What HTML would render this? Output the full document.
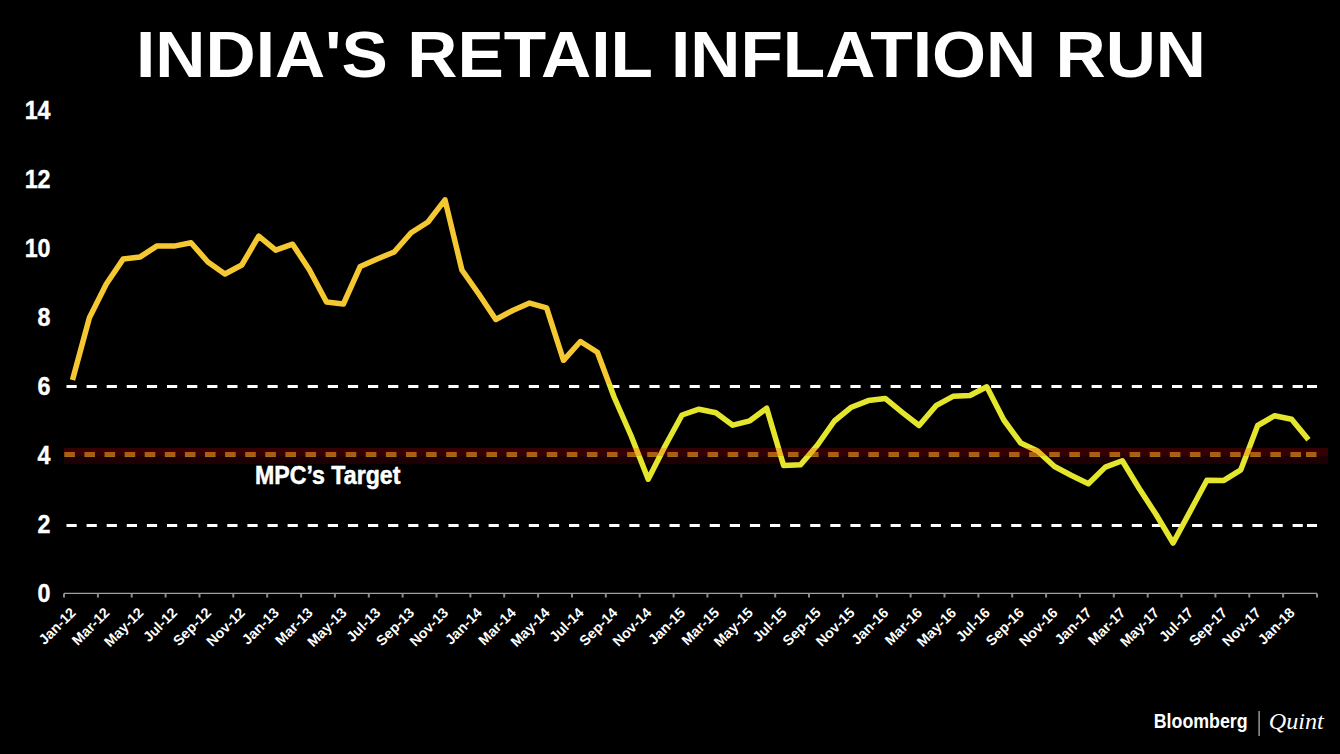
<!DOCTYPE html>
<html><head><meta charset="utf-8">
<style>
html,body{margin:0;padding:0;background:#000;width:1340px;height:754px;overflow:hidden}
svg{display:block}
text{font-family:"Liberation Sans",sans-serif}
</style></head>
<body>
<svg width="1340" height="754" viewBox="0 0 1340 754">
<defs>
<linearGradient id="lg" gradientUnits="userSpaceOnUse" x1="0" y1="383.5" x2="0" y2="384.5">
<stop offset="0" stop-color="#f5c832"/><stop offset="1" stop-color="#e4e62d"/>
</linearGradient>
</defs>
<rect width="1340" height="754" fill="#000"/>
<text x="136" y="77.2" font-size="65" font-weight="bold" fill="#fff" textLength="1070" lengthAdjust="spacingAndGlyphs">INDIA'S RETAIL INFLATION RUN</text>
<g fill="#fff" stroke="#fff" stroke-width="0.4" font-size="25" font-weight="bold" text-anchor="end" transform="translate(51,0) scale(0.93,1) translate(-51,0)">
<text x="50.5" y="602.2">0</text>
<text x="50.5" y="533.2">2</text>
<text x="50.5" y="464.2">4</text>
<text x="50.5" y="395.2">6</text>
<text x="50.5" y="326.2">8</text>
<text x="50.5" y="257.2">10</text>
<text x="50.5" y="188.2">12</text>
<text x="50.5" y="119.2">14</text>
</g>
<path d="M64,386.5H1305M64,525.5H1305" stroke="#fff" stroke-width="3.1" stroke-dasharray="10.2 9.9" stroke-dashoffset="-2.5"/>
<path d="M1307,386.5H1317M1307,525.5H1317" stroke="#fff" stroke-width="3.2"/>
<path d="M64,593.4H1317" stroke="#a0a0a0" stroke-width="1.4"/>
<path d="M64.0,593.5v4 M97.9,593.5v4 M131.7,593.5v4 M165.6,593.5v4 M199.5,593.5v4 M233.3,593.5v4 M267.2,593.5v4 M301.1,593.5v4 M334.9,593.5v4 M368.8,593.5v4 M402.6,593.5v4 M436.5,593.5v4 M470.4,593.5v4 M504.2,593.5v4 M538.1,593.5v4 M572.0,593.5v4 M605.8,593.5v4 M639.7,593.5v4 M673.6,593.5v4 M707.4,593.5v4 M741.3,593.5v4 M775.2,593.5v4 M809.0,593.5v4 M842.9,593.5v4 M876.8,593.5v4 M910.6,593.5v4 M944.5,593.5v4 M978.4,593.5v4 M1012.2,593.5v4 M1046.1,593.5v4 M1079.9,593.5v4 M1113.8,593.5v4 M1147.7,593.5v4 M1181.5,593.5v4 M1215.4,593.5v4 M1249.3,593.5v4 M1283.1,593.5v4 M1317.0,593.5v4" stroke="#8c8c8c" stroke-width="2"/>
<rect x="64" y="456" width="1264" height="8" fill="#1c0004"/>
<path d="M64,454.5H1302" stroke="#9c7214" stroke-width="5" stroke-dasharray="10.6 9.5" stroke-dashoffset="-0.3"/>
<path d="M1306,454.5H1316.5" stroke="#9c7214" stroke-width="5"/>
<polyline points="72.5,380.0 89.4,317.8 106.3,284.0 123.3,258.9 140.2,256.9 157.1,245.9 174.1,246.1 191.0,242.8 207.9,262.0 224.9,274.0 241.8,265.0 258.7,236.1 275.7,250.2 292.6,244.2 309.5,270.0 326.5,302.0 343.4,304.0 360.3,266.4 377.2,259.0 394.2,252.0 411.1,232.7 428.0,222.0 445.0,199.8 461.9,270.0 478.8,294.0 495.8,319.5 512.7,310.5 529.6,303.1 546.6,307.8 563.5,360.3 580.4,341.5 597.4,352.3 614.3,397.5 631.2,436.0 648.2,479.2 665.1,446.0 682.0,415.0 699.0,409.2 715.9,412.8 732.8,425.2 749.8,420.8 766.7,408.2 783.6,465.5 800.6,464.8 817.5,445.0 834.4,421.0 851.4,407.2 868.3,400.6 885.2,398.4 902.2,412.3 919.1,425.5 936.0,405.7 953.0,396.3 969.9,395.5 986.8,386.8 1003.8,420.0 1020.7,443.0 1037.6,451.0 1054.5,466.5 1071.5,475.5 1088.4,483.8 1105.3,467.1 1122.3,460.7 1139.2,488.5 1156.1,514.5 1173.1,543.0 1190.0,511.6 1206.9,480.2 1223.9,480.4 1240.8,469.8 1257.7,425.5 1274.7,415.7 1291.6,419.2 1308.5,439.8" fill="none" stroke="url(#lg)" stroke-width="5.5" stroke-linejoin="round" stroke-linecap="butt"/>
<rect x="64" y="448" width="1264" height="8" fill="#ff0010" fill-opacity="0.2"/>
<text x="255" y="483.9" font-size="25" font-weight="bold" fill="#fff" stroke="#fff" stroke-width="0.5" textLength="145.4" lengthAdjust="spacingAndGlyphs">MPC’s Target</text>
<g fill="#fff" font-size="14.3" font-weight="bold" text-anchor="end" dominant-baseline="central">
<text transform="translate(73.1,610.0) rotate(-45)">Jan-12</text>
<text transform="translate(106.9,610.0) rotate(-45)">Mar-12</text>
<text transform="translate(140.8,610.0) rotate(-45)">May-12</text>
<text transform="translate(174.7,610.0) rotate(-45)">Jul-12</text>
<text transform="translate(208.5,610.0) rotate(-45)">Sep-12</text>
<text transform="translate(242.4,610.0) rotate(-45)">Nov-12</text>
<text transform="translate(276.3,610.0) rotate(-45)">Jan-13</text>
<text transform="translate(310.1,610.0) rotate(-45)">Mar-13</text>
<text transform="translate(344.0,610.0) rotate(-45)">May-13</text>
<text transform="translate(377.9,610.0) rotate(-45)">Jul-13</text>
<text transform="translate(411.7,610.0) rotate(-45)">Sep-13</text>
<text transform="translate(445.6,610.0) rotate(-45)">Nov-13</text>
<text transform="translate(479.4,610.0) rotate(-45)">Jan-14</text>
<text transform="translate(513.3,610.0) rotate(-45)">Mar-14</text>
<text transform="translate(547.2,610.0) rotate(-45)">May-14</text>
<text transform="translate(581.0,610.0) rotate(-45)">Jul-14</text>
<text transform="translate(614.9,610.0) rotate(-45)">Sep-14</text>
<text transform="translate(648.8,610.0) rotate(-45)">Nov-14</text>
<text transform="translate(682.6,610.0) rotate(-45)">Jan-15</text>
<text transform="translate(716.5,610.0) rotate(-45)">Mar-15</text>
<text transform="translate(750.4,610.0) rotate(-45)">May-15</text>
<text transform="translate(784.2,610.0) rotate(-45)">Jul-15</text>
<text transform="translate(818.1,610.0) rotate(-45)">Sep-15</text>
<text transform="translate(852.0,610.0) rotate(-45)">Nov-15</text>
<text transform="translate(885.8,610.0) rotate(-45)">Jan-16</text>
<text transform="translate(919.7,610.0) rotate(-45)">Mar-16</text>
<text transform="translate(953.6,610.0) rotate(-45)">May-16</text>
<text transform="translate(987.4,610.0) rotate(-45)">Jul-16</text>
<text transform="translate(1021.3,610.0) rotate(-45)">Sep-16</text>
<text transform="translate(1055.1,610.0) rotate(-45)">Nov-16</text>
<text transform="translate(1089.0,610.0) rotate(-45)">Jan-17</text>
<text transform="translate(1122.9,610.0) rotate(-45)">Mar-17</text>
<text transform="translate(1156.7,610.0) rotate(-45)">May-17</text>
<text transform="translate(1190.6,610.0) rotate(-45)">Jul-17</text>
<text transform="translate(1224.5,610.0) rotate(-45)">Sep-17</text>
<text transform="translate(1258.3,610.0) rotate(-45)">Nov-17</text>
<text transform="translate(1292.2,610.0) rotate(-45)">Jan-18</text>
</g>
<text x="1153.7" y="728.4" font-size="20" font-weight="bold" fill="#fff" textLength="94" lengthAdjust="spacingAndGlyphs">Bloomberg</text>
<rect x="1258.5" y="711" width="1.2" height="25" fill="#bbb"/>
<text x="1268.8" y="728.7" font-size="24" font-style="italic" fill="#fff" style="font-family:'Liberation Serif',serif" textLength="55" lengthAdjust="spacingAndGlyphs">Quint</text>
</svg>
</body></html>
